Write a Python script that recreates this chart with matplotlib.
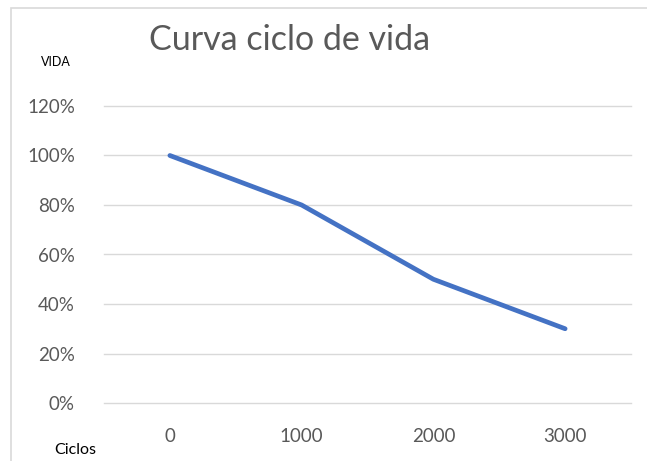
import matplotlib.pyplot as plt
from matplotlib.patches import Rectangle

ciclos = ['0', '1000', '2000', '3000']
vida = [1.00, 0.80, 0.50, 0.30]
yticks = [0, 0.2, 0.4, 0.6, 0.8, 1.0, 1.2]

W, H = 647, 461
fig = plt.figure(figsize=(W / 100, H / 100), dpi=100)
plt.rcParams['font.family'] = ['Lato', 'DejaVu Sans']

# chart area border (runs off the right and bottom edges)
fig.patches.append(Rectangle((10.5 / W, -0.05), 1.0, 1 - 7.5 / H + 0.05,
                             transform=fig.transFigure, fill=False,
                             edgecolor='#d9d9d9', linewidth=1.2))

ax = fig.add_axes([104 / W, 1 - 403 / H, (631 - 104) / W, (403 - 106) / H])
x = range(len(ciclos))
ax.plot(x, vida, color='#4472C4', linewidth=3.4, solid_capstyle='round')
ax.set_xlim(-0.5, len(ciclos) - 0.5)
ax.set_ylim(0, 1.2)
ax.set_yticks(yticks)
ax.set_yticklabels([f'{int(round(v * 100))}%' for v in yticks])
ax.set_xticks(list(x))
ax.set_xticklabels(ciclos)
ax.grid(axis='y', color='#d9d9d9', linewidth=1.0)
for g in ax.get_ygridlines():
    g.set_clip_on(False)
ax.set_axisbelow(True)
for s in ax.spines.values():
    s.set_visible(False)
ax.tick_params(length=0, labelsize=13.5, labelcolor='#595959')
ax.tick_params(axis='y', pad=21)
ax.tick_params(axis='x', pad=18)

fig.text(290 / W, 1 - 40 / H, 'Curva ciclo de vida', ha='center', va='center',
         fontsize=24.5, color='#595959')
fig.text(56 / W, 1 - 62 / H, 'VIDA', ha='center', va='center', fontsize=9,
         color='black')
fig.text(75 / W, 1 - 450 / H, 'Ciclos', ha='center', va='center', fontsize=11.5,
         color='black')

fig.savefig('out.png', dpi=100)
